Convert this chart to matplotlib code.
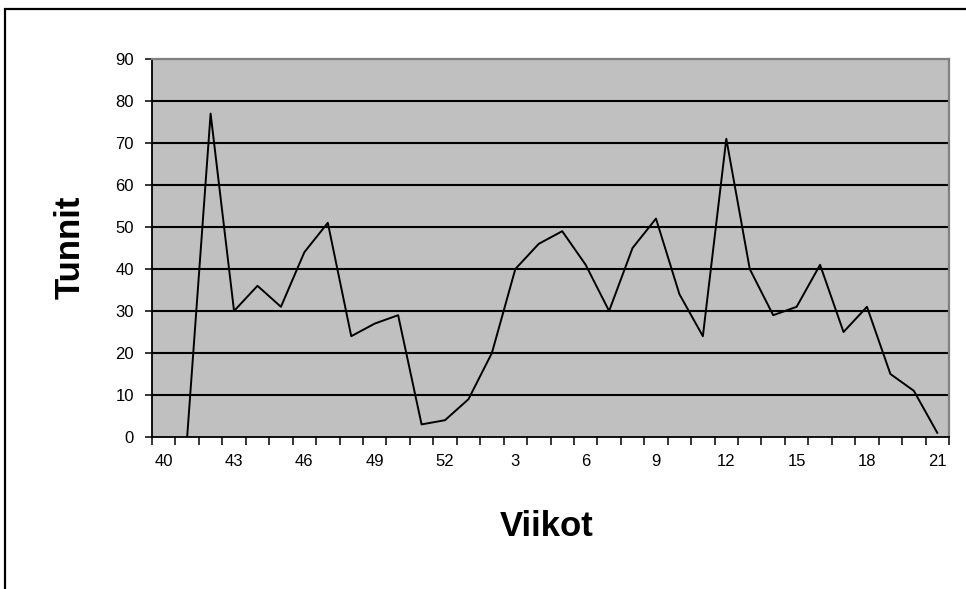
import numpy as np
import matplotlib
matplotlib.use("Agg")
import matplotlib.pyplot as plt
from matplotlib.patches import Rectangle

plt.rcParams['font.family'] = ['Liberation Sans', 'DejaVu Sans']

# weeks 40..52 then 1..21
weeks = list(range(40, 53)) + list(range(1, 22))
hours = [np.nan, 0, 77, 30, 36, 31, 44, 51, 24, 27, 29, 3, 4,
         9, 20, 40, 46, 49, 41, 30, 45, 52, 34, 24, 71, 40, 29, 31, 41, 25, 31, 15, 11, 1]
yticks = list(range(0, 91, 10))

fig = plt.figure(figsize=(9.66, 5.89), dpi=100)
fig.patch.set_facecolor('white')

# chart area border (cropped at right and bottom)
fig.patches.append(Rectangle((5 / 966, -0.1), 1.2, 1.1 - 9 / 589,
                             transform=fig.transFigure, fill=False,
                             edgecolor='black', linewidth=1.6))

ax = fig.add_axes([152 / 966, 1 - 437 / 589, 797 / 966, 378 / 589])
ax.set_facecolor('#C0C0C0')

x = np.arange(len(weeks))
ax.plot(x, hours, color='black', linewidth=1.4, zorder=3)

ax.set_xlim(-0.5, len(weeks) - 0.5)
ax.set_ylim(0, 90)

# grid lines
for v in yticks[1:-1]:
    ax.axhline(v, color='black', linewidth=1.5, zorder=2)

ax.set_yticks(yticks)
ax.set_yticklabels([str(v) for v in yticks], fontsize=12)
ax.tick_params(axis='y', direction='out', length=5, width=1.1, pad=8)

# category labels every 3rd, ticks at category boundaries
ax.set_xticks(x[::3])
ax.set_xticklabels([str(weeks[i]) for i in x[::3]], fontsize=12)
ax.set_xticks(np.arange(-0.5, len(weeks)), minor=True)
ax.tick_params(axis='x', which='major', length=0, pad=12)
ax.tick_params(axis='x', which='minor', direction='out', length=6, width=1.1)

for s in ['left', 'bottom']:
    ax.spines[s].set_color('black')
    ax.spines[s].set_linewidth(1.3)
for s in ['top', 'right']:
    ax.spines[s].set_color('#808080')
    ax.spines[s].set_linewidth(1.6)

fig.text(70 / 966, 1 - 247 / 589, 'Tunnit', rotation=90, fontsize=25,
         fontweight='bold', ha='center', va='center')
fig.text(547 / 966, 1 - 527 / 589, 'Viikot', fontsize=25,
         fontweight='bold', ha='center', va='center')

fig.savefig('out.png', dpi=100)
